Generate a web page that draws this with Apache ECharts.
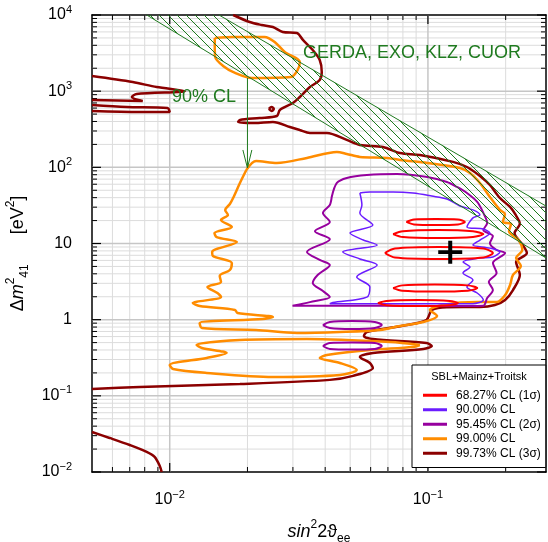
<!DOCTYPE html>
<html><head><meta charset="utf-8">
<script src="https://cdn.jsdelivr.net/npm/echarts@6/dist/echarts.min.js"></script>
<style>html,body{margin:0;padding:0;background:#fff}#c{width:548px;height:542px}</style>
</head><body><div id="c"></div>
<script>
// ---- axis ranges / ticks ----
const xRange = [0.005, 0.2866];
const yRange = [0.01, 10000];
const xDecades = [-2, -1];
const yDecades = [-2, -1, 0, 1, 2, 3, 4];
const minorSteps = [2, 3, 4, 5, 6, 7, 8, 9];

// ---- 99.73% CL (3σ) ----
const cl9973_main = [[0.0176,10000],[0.0204,8090],[0.0227,7400],[0.0251,6950],[0.0274,5980],[0.0311,5800],[0.0328,4700],[0.0358,3470],[0.0381,2570],[0.0388,1790],[0.0381,1400],[0.0349,1133],[0.0319,838],[0.0300,700],[0.0267,566],[0.0260,472],[0.0223,444],[0.0187,419],[0.0184,395],[0.0213,383],[0.0251,395],[0.0292,339],[0.0319,309],[0.0349,282],[0.0406,282],[0.0485,229],[0.0545,197],[0.0670,185],[0.0779,154],[0.0931,145],[0.125,118],[0.1416,101],[0.159,77],[0.1738,58.6],[0.190,39.6],[0.208,30.2],[0.2175,24.4],[0.227,18.1],[0.2165,13.7],[0.233,9.55],[0.2417,7.5],[0.2195,5.72],[0.227,3.86],[0.2135,2.45],[0.199,1.81],[0.1817,1.556],[0.159,1.464],[0.1185,1.46],[0.1036,1.34],[0.0987,0.99],[0.0829,0.85],[0.058,0.69],[0.0565,0.611],[0.0612,0.557],[0.0987,0.494],[0.1035,0.451],[0.096,0.412],[0.0612,0.365],[0.0545,0.324],[0.0596,0.27],[0.0612,0.232],[0.0513,0.183],[0.0417,0.162],[0.0187,0.143],[0.00765,0.131],[0.005,0.123]];
const cl9973_tongue1 = [[0.005,1580],[0.00719,1318],[0.0089,1133],[0.01143,1000],[0.00745,918],[0.00713,838],[0.00786,743],[0.005,766]];
const cl9973_tongue2 = [[0.005,659],[0.00681,620],[0.0098,601],[0.01,533],[0.00765,533],[0.005,549]];
const cl9973_dot = [[0.0242,584],[0.0248,620],[0.0253,584],[0.0248,549],[0.0242,584]];
const cl9973_low = [[0.005,0.0335],[0.00585,0.028],[0.007,0.0226],[0.00814,0.0184],[0.00874,0.0158],[0.00915,0.012],[0.00931,0.01]];

// ---- 99.00% CL ----
const cl99_top = [[0.01494,4993],[0.0176,5146],[0.0233,5150],[0.0255,4425],[0.0279,3267],[0.0319,2420],[0.0313,1900],[0.0295,1533],[0.0208,1487],[0.0179,1735],[0.0161,2143],[0.015,2814],[0.01494,4041],[0.01494,4993]];
const cl99_main = [[0.0198,92.3],[0.0216,121],[0.026,114],[0.034,133],[0.0444,159],[0.0485,150],[0.0545,137],[0.0694,133],[0.0779,125],[0.0995,114],[0.133,98],[0.1455,84.3],[0.159,62.3],[0.1738,40.8],[0.19,27.6],[0.1987,24.4],[0.195,19.2],[0.21,18.1],[0.206,14.5],[0.2243,11.1],[0.232,8.22],[0.2195,6.45],[0.229,5.07],[0.2135,3.86],[0.208,2.85],[0.199,2.1],[0.1845,1.7],[0.1556,1.7],[0.1185,1.6],[0.1018,1.34],[0.1085,1.12],[0.096,0.932],[0.0779,0.826],[0.0652,0.733],[0.0456,0.69],[0.0311,0.67],[0.0216,0.733],[0.01332,0.777],[0.01306,0.904],[0.0229,1.02],[0.0251,1.085],[0.0183,1.22],[0.0179,1.34],[0.01306,1.51],[0.01228,1.65],[0.0158,1.98],[0.0153,2.24],[0.014,2.69],[0.0158,3.13],[0.01562,3.75],[0.0171,4.49],[0.0174,5.55],[0.0147,6.86],[0.0146,7.74],[0.0182,10.45],[0.0152,12.15],[0.0149,13.7],[0.0174,16.5],[0.0158,20.4],[0.0168,23.7],[0.0164,27.6],[0.0171,33],[0.0176,39.6],[0.0187,62.3],[0.0198,92.3]];
const cl99_island = [[0.0931,0.465],[0.0713,0.509],[0.034,0.557],[0.0187,0.541],[0.0127,0.465],[0.01332,0.425],[0.0166,0.365],[0.0139,0.314],[0.01,0.254],[0.0103,0.225],[0.0139,0.2],[0.0251,0.177],[0.0456,0.188],[0.053,0.219],[0.0456,0.27],[0.0381,0.314],[0.0406,0.344],[0.0596,0.4],[0.0874,0.438],[0.0931,0.465]];

// ---- 95.45% CL (2σ) ----
const cl9545_main = [[0.0424,40.8],[0.0444,62.3],[0.0485,72.5],[0.058,79.3],[0.0758,81.8],[0.0995,74.7],[0.1185,64.2],[0.1296,55.2],[0.1416,46],[0.1552,35.1],[0.1639,25.2],[0.1696,18.6],[0.1639,15],[0.1785,12.5],[0.1738,10.1],[0.1845,8.22],[0.199,7.5],[0.1785,5.55],[0.1845,4.1],[0.1721,3.13],[0.1785,2.45],[0.1696,1.92],[0.1639,1.52],[0.1416,1.51],[0.0779,1.52],[0.0417,1.52],[0.0299,1.52],[0.0349,1.7],[0.0417,1.98],[0.0392,2.38],[0.0358,3.03],[0.0374,3.86],[0.0417,5.23],[0.0381,6.08],[0.034,7.74],[0.0417,11.4],[0.0365,14.5],[0.0417,19.2],[0.0392,25.2],[0.0417,32.1],[0.0424,40.8]];
const cl9545_isl1 = [[0.0392,0.85],[0.0417,0.932],[0.0508,0.96],[0.0623,0.932],[0.0663,0.85],[0.0623,0.777],[0.0508,0.753],[0.0417,0.777],[0.0392,0.85]];
const cl9545_isl2 = [[0.0392,0.451],[0.0417,0.494],[0.0508,0.501],[0.0623,0.494],[0.0663,0.451],[0.0623,0.412],[0.0508,0.405],[0.0417,0.412],[0.0392,0.451]];

// ---- 90.00% CL ----
const cl90_main = [[0.0545,46],[0.0596,47.5],[0.0733,47.5],[0.0875,46],[0.1035,42],[0.1185,38.4],[0.133,31.1],[0.1494,27.6],[0.159,23.7],[0.1494,21.7],[0.1416,16.5],[0.1639,15.5],[0.1738,13.7],[0.159,11.1],[0.1494,9.55],[0.1738,8.7],[0.19,7.74],[0.1785,6.65],[0.159,6.45],[0.1367,5.72],[0.1455,4.92],[0.1367,4.1],[0.1494,3.32],[0.1416,2.69],[0.1552,2.24],[0.1639,1.81],[0.1494,1.62],[0.0779,1.62],[0.0417,1.62],[0.0428,1.68],[0.058,1.98],[0.0596,2.69],[0.053,3.63],[0.0636,5.23],[0.0545,6.27],[0.0468,7.74],[0.0636,9.55],[0.0562,11.1],[0.0499,13.7],[0.0612,17.5],[0.0545,25.2],[0.0555,32.1],[0.0545,46]];

// ---- 68.27% CL (1σ) ----
const cl6827_e1 = [[0.0825,19.2],[0.0883,20.7],[0.1074,21.0],[0.1307,20.7],[0.1391,19.2],[0.1307,17.8],[0.1074,17.5],[0.0883,17.8],[0.0825,19.2]];
const cl6827_e2 = [[0.0733,13.3],[0.080,14.5],[0.1093,15.0],[0.1494,14.5],[0.1639,13.3],[0.1494,12.15],[0.1093,11.8],[0.080,12.15],[0.0733,13.3]];
const cl6827_e3 = [[0.0681,7.5],[0.0745,8.6],[0.1104,9.0],[0.1639,8.6],[0.1785,7.5],[0.1639,6.55],[0.1104,6.27],[0.0745,6.55],[0.0681,7.5]];
const cl6827_e4 = [[0.0733,2.6],[0.0795,2.82],[0.1064,2.9],[0.1427,2.82],[0.1552,2.6],[0.1427,2.4],[0.1064,2.34],[0.0795,2.4],[0.0733,2.6]];
const cl6827_e5 = [[0.064,1.65],[0.0691,1.76],[0.0915,1.81],[0.1217,1.76],[0.1307,1.65],[0.1217,1.55],[0.0915,1.51],[0.0691,1.55],[0.064,1.65]];

// ---- best fit, 0νββ band, arrow ----
const bestFit = [[0.122, 7.7]];
const bandLower = [[0.00815, 10000], [0.2866, 6.46]];
const bandUpper = [[0.01552, 10000], [0.2866, 31]];
const arrowLine = [[0.02, 1490], [0.02, 98]];
const arrowHead = [[0.0192, 169], [0.02, 98], [0.0208, 169]];

const legendNames = ['68.27% CL (1σ)', '90.00% CL', '95.45% CL (2σ)', '99.00% CL', '99.73% CL (3σ)'];

// ---- helpers ----
const FF = '"Liberation Sans", Arial, sans-serif';
const GREEN = '#1f7a1f';
const L = p => [Math.log10(p[0]), Math.log10(p[1])];
const joinSegs = segs => segs.reduce((acc, s, i) => acc.concat(i ? [['-', '-']] : [], s.map(L)), []);
const XMIN = Math.log10(xRange[0]), XMAX = Math.log10(xRange[1]);
const YMIN = Math.log10(yRange[0]), YMAX = Math.log10(yRange[1]);
const minorOf = decs => {
  const out = [];
  decs.forEach(d => minorSteps.forEach(k => out.push(Math.log10(k) + d)));
  return out;
};
const xMinor = minorOf([-3, -2, -1]).filter(v => v > XMIN + 1e-6 && v < XMAX - 1e-6);
const yMinor = minorOf([-2, -1, 0, 1, 2, 3]).filter(v => v > YMIN && v < YMAX);

function powLabel(v) {
  const r = Math.round(v);
  if (r === 0) return '{b|1}';
  if (r === 1) return '{b|10}';
  return '{b|10}{s|' + (r < 0 ? '−' : '') + Math.abs(r) + '}';
}
const labRich = {
  b: { fontSize: 16, lineHeight: 22, fontFamily: FF, color: '#000' },
  s: { fontSize: 11, lineHeight: 12, verticalAlign: 'top', fontFamily: FF, color: '#000' }
};

// hatch pattern
const HT = 9;
const pc = document.createElement('canvas');
pc.width = HT; pc.height = HT;
const g = pc.getContext('2d');
g.strokeStyle = GREEN; g.lineWidth = 1;
g.beginPath();
g.moveTo(-1, -1); g.lineTo(HT + 1, HT + 1);
g.moveTo(-1, HT - 1); g.lineTo(1, HT + 1);
g.moveTo(HT - 1, -1); g.lineTo(HT + 1, 1);
g.stroke();

function gridRender(params, api) {
  const ch = [];
  const p0 = api.coord([XMIN, YMIN]), p1 = api.coord([XMAX, YMAX]);
  const x0 = p0[0], y0 = p0[1], x1 = p1[0], y1 = p1[1];
  const ln = (a, b, c, d, col, w) => ch.push({ type: 'line', shape: { x1: a, y1: b, x2: c, y2: d }, style: { stroke: col, lineWidth: w } });
  xMinor.forEach(v => { const x = api.coord([v, YMIN])[0]; ln(x, y0, x, y1, '#dcdcdc', 1); });
  yMinor.forEach(v => { const y = api.coord([XMIN, v])[1]; ln(x0, y, x1, y, '#dcdcdc', 1); });
  xDecades.forEach(v => { const x = api.coord([v, YMIN])[0]; ln(x, y0, x, y1, '#c6c6c6', 1.5); });
  yDecades.forEach(v => { if (v > YMIN && v < YMAX) { const y = api.coord([XMIN, v])[1]; ln(x0, y, x1, y, '#c6c6c6', 1.5); } });
  xMinor.forEach(v => { const x = api.coord([v, YMIN])[0]; ln(x, y0, x, y0 - 5, '#000', 1); ln(x, y1, x, y1 + 5, '#000', 1); });
  xDecades.forEach(v => { const x = api.coord([v, YMIN])[0]; ln(x, y0, x, y0 - 9, '#000', 1.2); ln(x, y1, x, y1 + 9, '#000', 1.2); });
  yMinor.forEach(v => { const y = api.coord([XMIN, v])[1]; ln(x0, y, x0 + 5, y, '#000', 1); ln(x1, y, x1 - 5, y, '#000', 1); });
  yDecades.forEach(v => { const y = api.coord([XMIN, v])[1]; ln(x0, y, x0 + 9, y, '#000', 1.2); ln(x1, y, x1 - 9, y, '#000', 1.2); });
  return { type: 'group', children: ch };
}

function bandRender(params, api) {
  const lo = bandLower.map(q => api.coord(L(q)));
  const up = bandUpper.map(q => api.coord(L(q)));
  return { type: 'group', children: [
    { type: 'polygon', shape: { points: [lo[0], up[0], up[1], lo[1]] }, style: { fill: { image: pc, repeat: 'repeat' }, stroke: null } },
    { type: 'polyline', shape: { points: lo }, style: { stroke: GREEN, lineWidth: 1, fill: null } },
    { type: 'polyline', shape: { points: up }, style: { stroke: GREEN, lineWidth: 1, fill: null } }
  ] };
}

const baseX = { type: 'value', min: XMIN, max: XMAX, axisLine: { show: true, onZero: false, lineStyle: { color: '#000', width: 1.5 } }, axisTick: { show: false }, splitLine: { show: false } };
const baseY = { type: 'value', min: YMIN, max: YMAX, axisLine: { show: true, onZero: false, lineStyle: { color: '#000', width: 1.5 } }, axisTick: { show: false }, splitLine: { show: false } };

const contour = (name, segs, color, width, z) => ({
  name, type: 'line', data: joinSegs(segs), symbol: 'none', smooth: 0.3, connectNulls: false,
  lineStyle: { color, width }, itemStyle: { color }, z, silent: true, clip: true
});

const chart = echarts.init(document.getElementById('c'), null, { renderer: 'canvas' });
chart.setOption({
  animation: false,
  backgroundColor: '#fff',
  grid: { left: 92, right: 2, top: 15, bottom: 70, outerBoundsMode: 'none', containLabel: false },
  xAxis: [
    Object.assign({}, baseX, {
      position: 'bottom',
      axisLabel: { show: true, customValues: xDecades, formatter: powLabel, margin: 17, rich: labRich },
      name: '{i|sin}{sup|2}{n|2ϑ}{sub|ee}', nameLocation: 'middle', nameGap: 47,
      nameTextStyle: { rich: {
        i: { fontSize: 18, fontStyle: 'italic', fontFamily: FF, lineHeight: 26, color: '#000' },
        n: { fontSize: 18, fontFamily: FF, lineHeight: 26, color: '#000' },
        sup: { fontSize: 12, fontFamily: FF, lineHeight: 14, verticalAlign: 'top', color: '#000' },
        sub: { fontSize: 12, fontFamily: FF, lineHeight: 12, verticalAlign: 'bottom', color: '#000' }
      } }
    }),
    Object.assign({}, baseX, { position: 'top', axisLabel: { show: false } })
  ],
  yAxis: [
    Object.assign({}, baseY, {
      position: 'left',
      axisLabel: { show: true, customValues: yDecades, formatter: powLabel, margin: 20, rich: labRich },
      name: '{d|Δ}{i|m}{sup|2}{sub|41}{n|      [eV}{sup|2}{n|]}', nameLocation: 'middle', nameGap: 56, nameRotate: 90,
      nameTextStyle: { padding: [0, 20, 0, 0], rich: {
        d: { fontSize: 18, fontFamily: FF, lineHeight: 26, color: '#000' },
        i: { fontSize: 18, fontStyle: 'italic', fontFamily: FF, lineHeight: 26, color: '#000' },
        n: { fontSize: 18, fontFamily: FF, lineHeight: 26, color: '#000' },
        sup: { fontSize: 12, fontFamily: FF, lineHeight: 14, verticalAlign: 'top', color: '#000' },
        sub: { fontSize: 12, fontFamily: FF, lineHeight: 12, verticalAlign: 'bottom', color: '#000' }
      } }
    }),
    Object.assign({}, baseY, { position: 'right', axisLabel: { show: false } })
  ],
  legend: {
    left: 412, top: 365, orient: 'vertical', icon: 'rect', itemWidth: 24, itemHeight: 3, itemGap: 0,
    padding: [23, 5, 7, 11], backgroundColor: '#fff', borderColor: '#000', borderWidth: 1, borderRadius: 0,
    textStyle: { fontSize: 12, lineHeight: 14.5, fontFamily: FF, color: '#000', padding: [0, 0, 0, 4] },
    data: legendNames, selectedMode: false, z: 20
  },
  graphic: [
    { type: 'text', x: 479, y: 377, z: 100, style: { text: 'SBL+Mainz+Troitsk', fontSize: 11, fontFamily: FF, fill: '#000', align: 'center', verticalAlign: 'middle' } },
    { type: 'text', x: 303, y: 53, z: 100, style: { text: 'GERDA, EXO, KLZ, CUOR', fontSize: 18, fontFamily: FF, fill: GREEN, align: 'left', verticalAlign: 'middle' } },
    { type: 'text', x: 172, y: 97, z: 100, style: { text: '90% CL', fontSize: 18, fontFamily: FF, fill: GREEN, align: 'left', verticalAlign: 'middle' } }
  ],
  series: [
    { type: 'custom', name: 'grid', silent: true, z: 1, clip: false, data: [[XMIN, YMIN]], renderItem: gridRender },
    contour(legendNames[4], [cl9973_main, cl9973_tongue1, cl9973_tongue2, cl9973_dot, cl9973_low], '#8b0000', 2.5, 3),
    contour(legendNames[3], [cl99_top, cl99_main, cl99_island], '#ff8c00', 2.5, 4),
    contour(legendNames[2], [cl9545_main, cl9545_isl1, cl9545_isl2], '#96009e', 2, 5),
    contour(legendNames[1], [cl90_main], '#6b1cff', 1.5, 6),
    contour(legendNames[0], [cl6827_e1, cl6827_e2, cl6827_e3, cl6827_e4, cl6827_e5], '#ff0000', 2, 7),
    { type: 'custom', name: 'band', silent: true, z: 8, data: [L(bandLower[0])], renderItem: bandRender },
    { type: 'line', name: 'arrow', data: joinSegs([arrowLine, arrowHead]), symbol: 'none', connectNulls: false, lineStyle: { color: GREEN, width: 1 }, z: 9, silent: true },
    { type: 'scatter', name: 'best fit', data: bestFit.map(L), symbol: 'path://M10,0H14V10H24V14H14V24H10V14H0V10H10Z', symbolSize: [24, 23], itemStyle: { color: '#000', opacity: 1 }, z: 10, silent: true }
  ]
});
</script></body></html>
